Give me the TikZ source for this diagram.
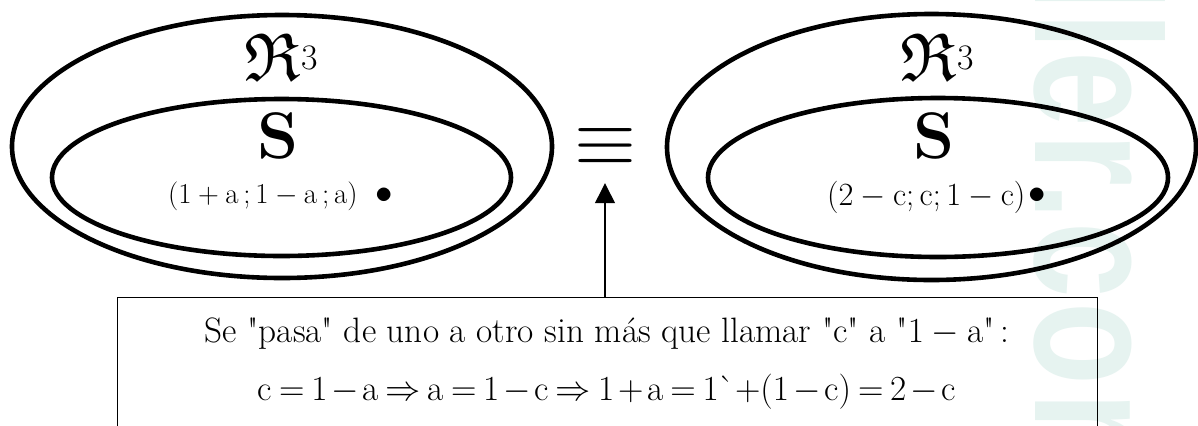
\RequirePackage{fix-cm}
\documentclass[tikz,border=0pt]{standalone}
\usepackage{amssymb}
\usepackage{graphicx}
\usepackage{fontspec}
\newfontfamily\wmfont{Liberation Sans}
\newfontfamily\qfont{Latin Modern Roman}
\usetikzlibrary{shapes.geometric,arrows.meta}
\definecolor{wmcol}{RGB}{230,243,240}
\tikzset{
  ring/.style={draw, ellipse, line width=4.6bp, inner sep=0pt},
  lbl/.style={anchor=base, inner sep=0pt},
  wm/.style={rotate=-90, anchor=base west, inner sep=0pt, text=wmcol,
    font=\wmfont\bfseries\fontsize{180}{180}\selectfont},
  setfont/.style={font=\fontsize{68}{68}\selectfont},
  sfont/.style={font=\bfseries\fontsize{66}{66}\selectfont},
  coordL/.style={anchor=base west, inner sep=0pt, font=\fontsize{29}{29}\selectfont},
  coordR/.style={anchor=base west, inner sep=0pt, font=\fontsize{32.5}{32.5}\selectfont},
  boxfont/.style={font=\qfont\fontsize{35.4}{35.4}\selectfont},
  arrowline/.style={line width=1.3bp, -{Triangle[width=20bp,length=20bp]}}
}
\newcommand{\bigpt}{{\fontsize{35}{35}\selectfont$\bullet$}}
\newcommand{\wml}[1]{\scalebox{0.756}[1]{#1}}
\newcommand{\rthree}{$\mathfrak{R}$\hspace{1bp}\raisebox{11bp}{\fontsize{36}{36}\selectfont 3}}
\begin{document}
\begin{tikzpicture}[x=1bp,y=-1bp]
\useasboundingbox (0,0) rectangle (1198,425);
\clip (0,0) rectangle (1198,425);
\fill[white] (0,0) rectangle (1198,425);
% watermark (partial, cut at the picture's edge)
\node[wm] (wm1) at (1035,-27) {\wml{l}};
\node[wm] (wm2) at (1035,12) {\wml{l}};
\node[wm] (wm3) at (1035,51) {\wml{e}};
\node[wm] (wm4) at (1035,133) {\wml{r}};
\node[wm] (wm5) at (1035,182.5) {\wml{.}};
\node[wm] (wm6) at (1035,222.6) {\wml{c}};
\node[wm] (wm7) at (1035,302) {\wml{o}};
\node[wm] (wm8) at (1035,392) {\wml{m}};
% left sets
\node[ring, minimum width=540bp, minimum height=263bp] (oL) at (282,146.5) {};
\node[ring, minimum width=459bp, minimum height=157bp] (iL) at (281.5,177.5) {};
\node[lbl, setfont] (rL) at (281.5,80) {\rthree};
\node[lbl, sfont] (sL) at (278,158) {S};
\node[coordL] (pL) at (168,203) {$(1+\mathrm{a}\,;1-\mathrm{a}\,;\mathrm{a})$\hspace{17.75bp}\bigpt};
% right sets
\node[ring, minimum width=529bp, minimum height=266bp] (oR) at (931.5,147) {};
\node[ring, minimum width=460bp, minimum height=159bp] (iR) at (938,177.5) {};
\node[lbl, setfont] (rR) at (937.5,80) {\rthree};
\node[lbl, sfont] (sR) at (934.5,158) {S};
\node[coordR] (pR) at (827,205) {$(2-\mathrm{c};\mathrm{c};1-\mathrm{c})$\hspace{2.75bp}\raisebox{2bp}{\bigpt}};
% equivalence
\node[font=\fontsize{80}{80}\selectfont, inner sep=0pt, minimum height=72bp] (eq) at (605,147) {$\equiv$};
% box
\node[draw, line width=1.3bp, minimum width=980bp, minimum height=160bp, anchor=north west, inner sep=0pt] (box) at (117,297) {};
\node[lbl, boxfont] (t1) at (607,342) {Se "pasa" de uno a otro sin más que llamar "c" a "$1-\mathrm{a}$"\,:};
\node[lbl, boxfont] (t2) at (607,400) {$\thickmuskip=3.5mu \medmuskip=2mu \mathrm{c}=1-\mathrm{a}\Rightarrow\mathrm{a}=1-\mathrm{c}\Rightarrow 1+\mathrm{a}=1\mbox{\textasciigrave}\mathord{+}(1-\mathrm{c})=2-\mathrm{c}$};
\draw[arrowline] (box.north -| eq.south) -- (eq.south);
\end{tikzpicture}
\end{document}
